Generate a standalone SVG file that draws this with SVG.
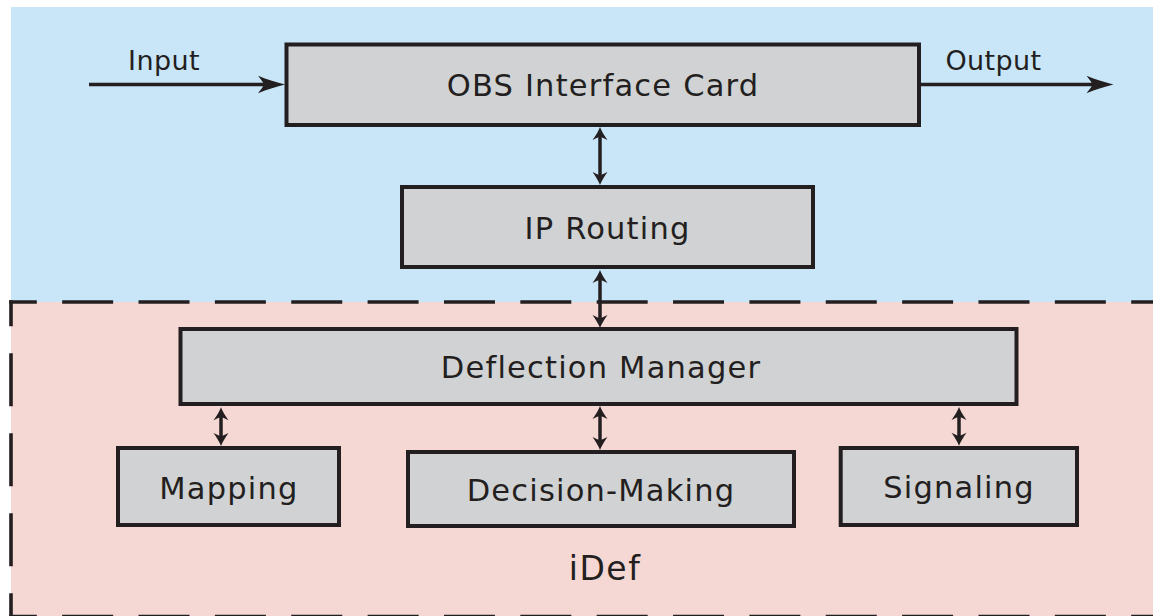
<svg xmlns="http://www.w3.org/2000/svg" width="1153" height="616" viewBox="0 0 1153 616">
  <style>
    .box { fill: #d1d2d4; stroke: #231f20; stroke-width: 4; }
    .lbl { font-family: "DejaVu Sans", Verdana, sans-serif; font-size: 30.5px; letter-spacing: 1.2px; fill: #231f20; text-anchor: middle; }
    .io { font-family: "DejaVu Sans", Verdana, sans-serif; font-size: 27px; letter-spacing: 0.4px; fill: #231f20; text-anchor: middle; }
    .wire { stroke: #231f20; stroke-width: 3.5; fill: none; }
    .h { marker-end: url(#ah); }
    .v { marker-start: url(#av); marker-end: url(#av); }
    .dash { stroke: #231f20; stroke-width: 3.6; fill: none; }
  </style>
  <defs>
    <!-- barbed arrowhead for the horizontal input/output lines -->
    <marker id="ah" markerUnits="userSpaceOnUse" viewBox="-28 -10 30 20" markerWidth="30" markerHeight="20" refX="-19" refY="0" orient="auto-start-reverse">
      <path d="M0,0 C-8,-2 -18,-5 -27,-8.7 C-23,-4 -21.5,-1.5 -21.5,0 C-21.5,1.5 -23,4 -27,8.7 C-18,5 -8,2 0,0 Z" fill="#231f20"/>
    </marker>
    <!-- smaller head for the vertical two-way links -->
    <marker id="av" markerUnits="userSpaceOnUse" viewBox="-14 -9 16 18" markerWidth="16" markerHeight="18" refX="-8" refY="0" orient="auto-start-reverse">
      <path d="M0,0 C-4,-1.5 -8,-4 -13,-7.5 C-11,-3.5 -10,-1.5 -10,0 C-10,1.5 -11,3.5 -13,7.5 C-8,4 -4,1.5 0,0 Z" fill="#231f20"/>
    </marker>
  </defs>

  <!-- background bands -->
  <rect x="0" y="0" width="1153" height="616" fill="#ffffff"/>
  <rect x="11" y="7" width="1142" height="295" fill="#c9e6f8"/>
  <rect x="11" y="302" width="1142" height="314" fill="#f5d8d3"/>

  <!-- dashed iDef boundary -->
  <g id="idef-boundary">
    <line class="dash" x1="9.2" y1="302" x2="1153" y2="302" stroke-dasharray="51 25.36" stroke-dashoffset="23.4"/>
    <line class="dash" x1="9.2" y1="616.5" x2="1153" y2="616.5" stroke-dasharray="51 25.36" stroke-dashoffset="23.4"/>
    <line class="dash" x1="11" y1="300.2" x2="11" y2="616" stroke-dasharray="53 27" stroke-dashoffset="27"/>
  </g>

  <!-- connectors -->
  <g id="connectors">
    <line class="wire h" x1="89" y1="84.5" x2="266" y2="84.5"/>
    <line class="wire h" x1="921" y1="84.5" x2="1094.5" y2="84.5"/>
    <line class="wire v" x1="600" y1="135" x2="600" y2="177"/>
    <line class="wire v" x1="600" y1="278" x2="600" y2="320"/>
    <line class="wire v" x1="221" y1="415.3" x2="221" y2="438"/>
    <line class="wire v" x1="600" y1="414" x2="600" y2="442"/>
    <line class="wire v" x1="959" y1="415" x2="959" y2="437.7"/>
  </g>

  <g id="input-label"><text class="io" x="164" y="70">Input</text></g>
  <g id="output-label"><text class="io" x="993.5" y="70">Output</text></g>

  <g id="obs-interface-card">
    <rect class="box" x="286.5" y="44.5" width="632.5" height="80.5"/>
    <text class="lbl" x="603" y="95.5">OBS Interface Card</text>
  </g>

  <g id="ip-routing">
    <rect class="box" x="402" y="187" width="411" height="80"/>
    <text class="lbl" x="607.5" y="238.5">IP Routing</text>
  </g>

  <g id="deflection-manager">
    <rect class="box" x="180.5" y="329" width="836" height="75"/>
    <text class="lbl" x="601" y="378">Deflection Manager</text>
  </g>

  <g id="mapping">
    <rect class="box" x="118" y="448" width="221" height="77"/>
    <text class="lbl" x="229" y="499">Mapping</text>
  </g>

  <g id="decision-making">
    <rect class="box" x="408" y="452" width="386" height="74"/>
    <text class="lbl" x="601" y="500.5">Decision-Making</text>
  </g>

  <g id="signaling">
    <rect class="box" x="840.7" y="448" width="236.3" height="77"/>
    <text class="lbl" x="959" y="497.5">Signaling</text>
  </g>

  <g id="idef-label">
    <text class="lbl" x="605" y="580" style="font-size:33px;letter-spacing:1.5px">iDef</text>
  </g>
</svg>
